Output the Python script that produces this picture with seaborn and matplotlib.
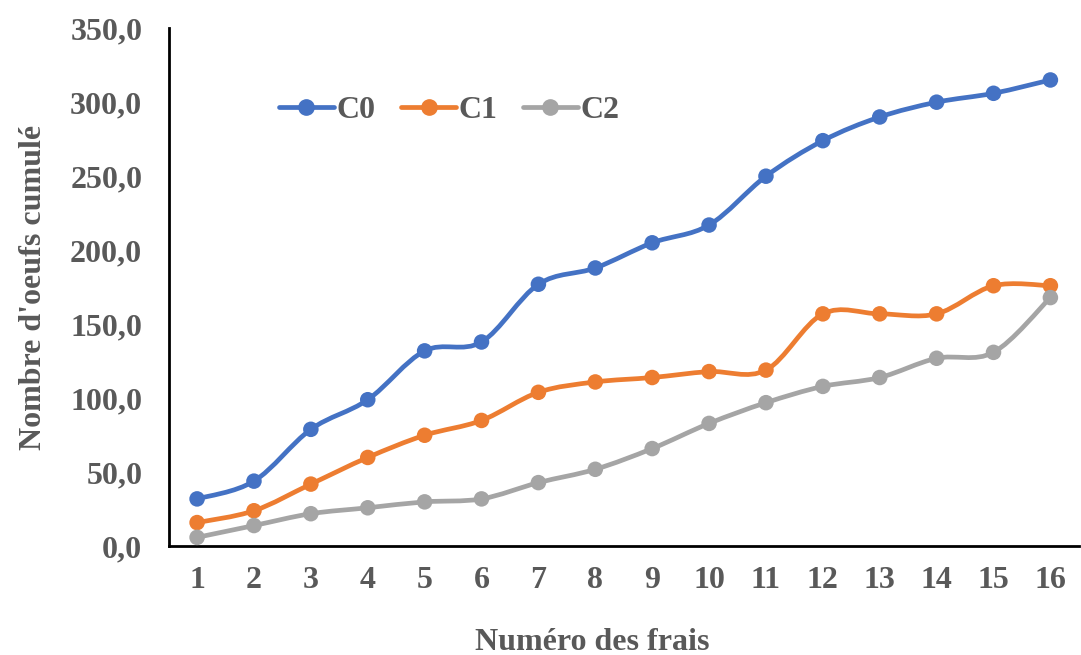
import numpy as np
import pandas as pd
import matplotlib
matplotlib.use("Agg")
import matplotlib.pyplot as plt
import seaborn as sns
from matplotlib.path import Path
from matplotlib.patches import PathPatch
from matplotlib.lines import Line2D
from matplotlib.ticker import FuncFormatter, MultipleLocator

# Données
frais = list(range(1, 17))
c0 = [32, 44, 79, 99, 132, 138, 177, 188, 205, 217, 250, 274, 290, 300, 306, 315]
c1 = [16, 24, 42, 60, 75, 85, 104, 111, 114, 118, 119, 157, 157, 157, 176, 176]
c2 = [6, 14, 22, 26, 30, 32, 43, 52, 66, 83, 97, 108, 114, 127, 131, 168]
series = ["C0", "C1", "C2"]
couleurs = ["#4472C4", "#ED7D31", "#A5A5A5"]

df = pd.DataFrame({"frais": frais * 3,
                   "oeufs": c0 + c1 + c2,
                   "serie": [s for s in series for _ in frais]})

gris = "#595959"
sns.set_style("white")
plt.rcParams["font.family"] = ["Liberation Serif", "DejaVu Serif"]
plt.rcParams["font.weight"] = "bold"


def courbe_lissee(x, y):
    # Bezier type Excel (Catmull-Rom)
    x = np.asarray(x, float)
    y = np.asarray(y, float)
    pts = np.column_stack([x, y])
    verts = [pts[0]]
    codes = [Path.MOVETO]
    n = len(pts)
    for i in range(n - 1):
        p0 = pts[i - 1] if i > 0 else pts[i]
        p1 = pts[i]
        p2 = pts[i + 1]
        p3 = pts[i + 2] if i + 2 < n else pts[i + 1]
        verts += [p1 + (p2 - p0) / 6, p2 - (p3 - p1) / 6, p2]
        codes += [Path.CURVE4] * 3
    return Path(verts, codes)


fig = plt.figure(figsize=(10.81, 6.55), dpi=100)
ax = fig.add_axes([0.156, 0.166, 0.842, 0.791])

for nom, coul in zip(series, couleurs):
    sub = df[df["serie"] == nom]
    ax.add_patch(PathPatch(courbe_lissee(sub["frais"], sub["oeufs"]),
                           facecolor="none", edgecolor=coul, lw=3.4,
                           capstyle="round", joinstyle="round", zorder=2))

sns.scatterplot(data=df, x="frais", y="oeufs", hue="serie", palette=couleurs,
                s=125, edgecolor="none", legend=False, ax=ax, zorder=3)

ax.set_xlim(0.5, 16.5)
ax.set_ylim(0, 350)
ax.yaxis.set_major_locator(MultipleLocator(50))
ax.yaxis.set_major_formatter(FuncFormatter(lambda v, p: f"{v:.1f}".replace(".", ",")))
ax.set_xticks(frais)
ax.set_xticks(np.arange(0.5, 17, 1), minor=True)
ax.tick_params(axis="x", which="major", length=0, pad=14, labelsize=23, labelcolor=gris)
ax.tick_params(axis="x", which="minor", length=12, width=1.5, color="black", direction="out")
ax.tick_params(axis="y", which="major", length=8, width=1.5, color="black",
               direction="out", labelsize=23, labelcolor=gris, pad=11)
for lab in ax.get_xticklabels() + ax.get_yticklabels():
    lab.set_fontweight("bold")

for sp in ["top", "right"]:
    ax.spines[sp].set_visible(False)
for sp in ["left", "bottom"]:
    ax.spines[sp].set_color("black")
    ax.spines[sp].set_linewidth(2)

ax.set_xlabel("Numéro des frais", fontsize=23, fontweight="bold", color=gris)
ax.xaxis.set_label_coords(0.465, -0.158)
ax.set_ylabel("Nombre d'oeufs cumulé", fontsize=23, fontweight="bold", color=gris, labelpad=16)

handles = [Line2D([0], [0], color=c, lw=3.4, marker="o", markersize=11) for c in couleurs]
ax.legend(handles, series, ncol=3, frameon=False, loc="upper left",
          bbox_to_anchor=(0.09, 0.925), handlelength=1.7, columnspacing=0.8,
          handletextpad=0.1, prop={"size": 23, "weight": "bold"}, labelcolor=gris)

fig.savefig("out.png", dpi=100)
